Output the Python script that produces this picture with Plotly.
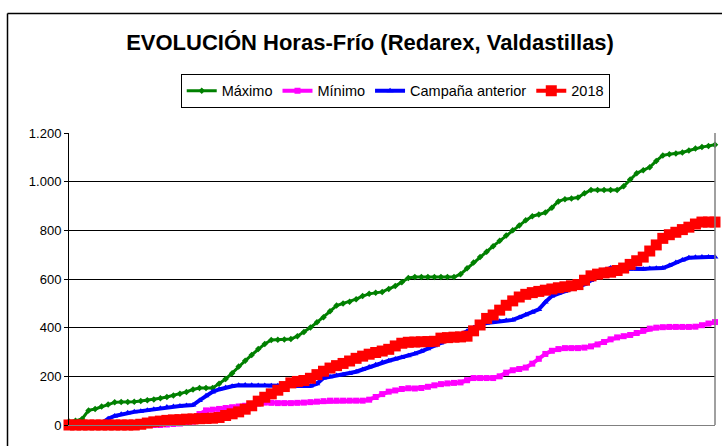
import plotly.graph_objects as go

dias = list(range(100))

maximo = [14, 17, 25, 60, 66, 76, 84, 93, 95, 95,
          96, 99, 102, 105, 110, 115, 121, 128, 136, 146,
          152, 152, 152, 170, 189, 213, 240, 264, 288, 312,
          333, 349, 350, 351, 353, 365, 382, 401, 422, 443,
          467, 491, 499, 506, 517, 530, 539, 543, 547, 559,
          571, 587, 604, 608, 608, 608, 608, 608, 608, 608,
          620, 644, 668, 690, 712, 735, 757, 779, 800, 820,
          841, 858, 865, 873, 893, 919, 928, 931, 935, 952,
          966, 966, 966, 966, 966, 981, 1009, 1035, 1047, 1059,
          1085, 1108, 1113, 1116, 1120, 1128, 1136, 1142, 1147, 1152]

minimo = [0, 0, 0, 0, 0, 0, 0, 0, 0, 0,
          0, 0, 0, 0, 0, 2, 4, 6, 10, 14,
          45, 60, 63, 66, 70, 73, 76, 79, 83, 88,
          92, 91, 90, 90, 90, 91, 92, 94, 96, 98,
          100, 100, 100, 100, 100, 100, 104, 115, 127, 137,
          142, 148, 151, 150, 152, 157, 163, 168, 171, 173,
          175, 184, 193, 193, 193, 193, 200, 215, 225, 230,
          236, 252, 272, 292, 305, 312, 316, 316, 316, 318,
          323, 331, 341, 352, 360, 365, 370, 378, 387, 396,
          400, 402, 403, 403, 403, 403, 404, 410, 417, 423]

anterior = [0, 0, 0, 0, 0, 8, 26, 37, 44, 50,
            54, 57, 61, 65, 69, 74, 76, 78, 80, 82,
            101, 120, 136, 146, 154, 159, 163, 164, 163, 162,
            162, 161, 161, 161, 160, 160, 160, 160, 170, 193,
            198, 203, 207, 212, 219, 228, 238, 248, 258, 264,
            271, 277, 285, 293, 303, 313, 326, 337, 350, 362,
            371, 385, 400, 412, 419, 423, 426, 429, 432, 442,
            453, 463, 475, 505, 530, 540, 550, 558, 568, 578,
            594, 615, 636, 645, 644, 642, 640, 640, 641, 643,
            644, 645, 655, 668, 678, 687, 689, 690, 690, 690]

actual_2018 = [0, 0, 0, 0, 0, 0, 0, 0, 0, 0,
               0, 3, 8, 13, 16, 19, 21, 22, 24, 25,
               26, 27, 28, 31, 39, 46, 54, 65, 79, 98,
               114, 128, 143, 158, 173, 179, 183, 192, 207, 221,
               234, 244, 253, 263, 274, 283, 291, 298, 304, 311,
               325, 336, 340, 341, 342, 343, 344, 357, 359, 361,
               362, 365, 387, 411, 438, 452, 472, 492, 510, 526,
               537, 544, 549, 554, 559, 564, 568, 572, 577, 595,
               613, 620, 625, 628, 635, 645, 660, 675, 690, 715,
               740, 767, 782, 792, 803, 813, 826, 834, 834, 834]

y_ticks = [0, 200, 400, 600, 800, 1000, 1200]

FONT = "Liberation Sans, Arial, sans-serif"

fig = go.Figure()
fig.add_trace(go.Scatter(x=dias, y=maximo, name="Máximo", mode="lines+markers",
                         line=dict(color="#008000", width=3),
                         marker=dict(symbol="diamond", size=5, color="#008000"),
                         cliponaxis=False))
fig.add_trace(go.Scatter(x=dias, y=minimo, name="Mínimo", mode="lines+markers",
                         line=dict(color="#FF00FF", width=4),
                         marker=dict(symbol="square", size=6, color="#FF00FF"),
                         cliponaxis=False))
fig.add_trace(go.Scatter(x=dias, y=anterior, name="Campaña anterior", mode="lines+markers",
                         line=dict(color="#0000FF", width=4),
                         marker=dict(symbol="triangle-up", size=6, color="#0000FF"),
                         cliponaxis=False))
fig.add_trace(go.Scatter(x=dias, y=actual_2018, name="2018", mode="lines+markers",
                         line=dict(color="#FF0000", width=4),
                         marker=dict(symbol="square", size=11, color="#FF0000"),
                         cliponaxis=False))

# outer chart frame (pixels converted to paper coordinates)
fx0 = (7.5 - 69) / 646
fy1 = (425 - 13.5) / 292

fig.update_layout(
    width=722, height=446,
    margin=dict(l=69, r=7, t=133, b=21, autoexpand=False),
    paper_bgcolor="white", plot_bgcolor="white",
    separators=",.",
    font=dict(family=FONT, color="black"),
    title=dict(text="<b>EVOLUCIÓN Horas-Frío (Redarex, Valdastillas)</b>",
               font=dict(family=FONT, size=22, color="black"),
               xref="paper", x=0.466, xanchor="center",
               yref="container", y=1 - 42 / 446, yanchor="middle"),
    legend=dict(orientation="h", xref="paper", yref="paper",
                x=0.505, xanchor="center", y=1.203, yanchor="top",
                bordercolor="black", borderwidth=1,
                font=dict(family=FONT, size=14.5, color="black"),
                itemwidth=30, tracegroupgap=0),
    showlegend=True,
    xaxis=dict(range=[0, 99], showticklabels=False, showgrid=False,
               zeroline=False, showline=True, linecolor="#808080", linewidth=1,
               ticks=""),
    yaxis=dict(range=[0, 1200], tickvals=y_ticks, tickformat=",d",
               showgrid=True, gridcolor="black", gridwidth=1,
               zeroline=False, showline=True, linecolor="black", linewidth=1,
               ticks="outside", ticklen=4, tickcolor="black",
               tickfont=dict(family=FONT, size=13, color="black")),
    shapes=[
        dict(type="line", xref="paper", yref="paper", x0=1, x1=1, y0=0, y1=1,
             line=dict(color="#808080", width=1.5), layer="above"),
        dict(type="line", xref="paper", yref="paper",
             x0=fx0, x1=1.02, y0=fy1, y1=fy1,
             line=dict(color="black", width=1.5), layer="above"),
        dict(type="line", xref="paper", yref="paper",
             x0=fx0, x1=fx0, y0=-0.2, y1=fy1,
             line=dict(color="black", width=1.5), layer="above"),
    ],
)

fig.write_html("out.html",
               config={"displayModeBar": False},
               post_script="document.body.style.margin='0';document.body.style.padding='0';")
